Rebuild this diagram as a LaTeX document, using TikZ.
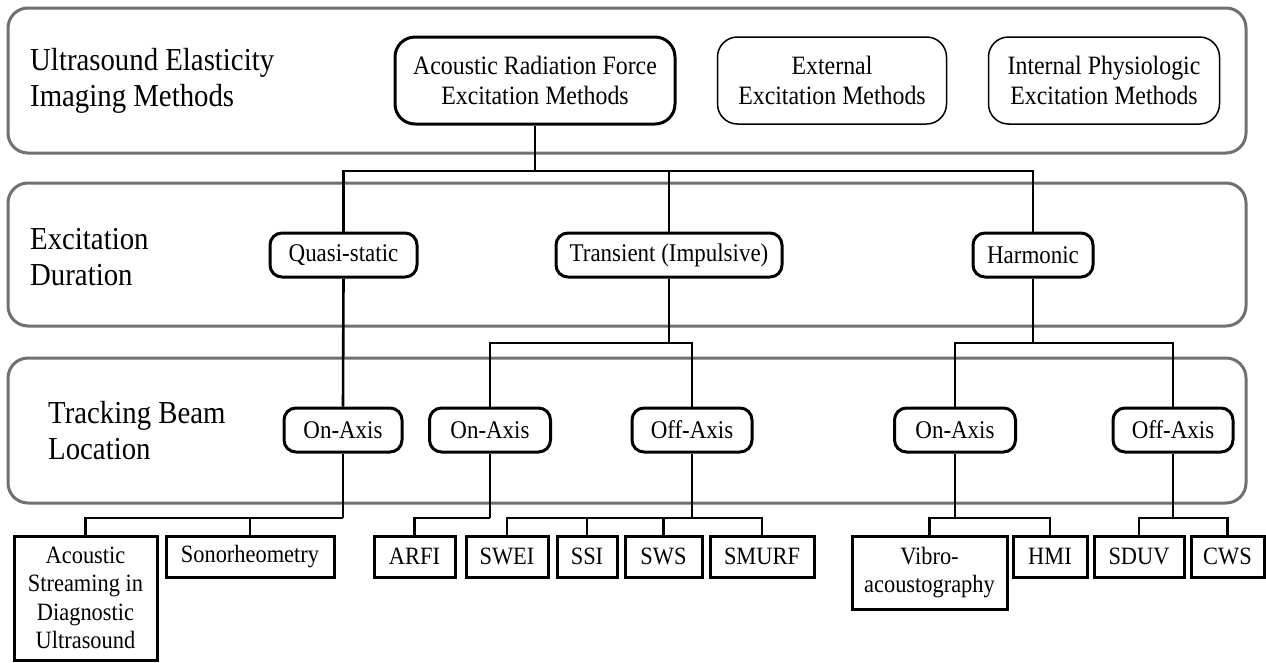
\documentclass[tikz,border=0pt]{standalone}
\usepackage{fontspec}
\setmainfont{Liberation Serif}[FakeStretch=0.9]
\definecolor{panelgray}{HTML}{707070}
\begin{document}
\begin{tikzpicture}[x=1pt,y=-1pt,
  panel/.style={draw=panelgray, line width=3pt, rounded corners=20pt, minimum width=1238pt, inner sep=0pt},
  title/.style={anchor=west, align=left, inner sep=0pt, font=\fontsize{32}{36}\selectfont},
  topbox/.style={draw, rounded corners=20pt, minimum height=87pt, inner sep=0pt, align=center, font=\fontsize{26.5}{30}\selectfont},
  rbox/.style={draw, line width=3pt, rounded corners=12pt, minimum height=44pt, inner sep=0pt, font=\fontsize{25.5}{28}\selectfont},
  leaf/.style={draw, line width=3pt, inner sep=0pt, minimum height=41pt, align=center, font=\fontsize{24.9}{28.5}\selectfont},
  conn/.style={line width=2.6pt}]
\useasboundingbox (0,0) rectangle (1266,662);
% panels
\node[panel, minimum height=145pt] (p1) at (627,80.5) {};
\node[panel, minimum height=143pt] (p2) at (627,254.5) {};
\node[panel, minimum height=145pt] (p3) at (627,430.5) {};
\node[title] (t1) at (30,81) {Ultrasound Elasticity\\Imaging Methods};
\node[title] (t2) at (30,257) {Excitation\\Duration};
\node[title] (t3) at (48,431) {Tracking Beam\\Location};
% top boxes
\node[topbox, line width=3pt, minimum width=280pt] (arf) at (535,80.5) {Acoustic Radiation Force\\Excitation Methods};
\node[topbox, line width=1.5pt, minimum width=229pt] (ext) at (832,80.5) {External\\Excitation Methods};
\node[topbox, line width=1.5pt, minimum width=231pt] (intl) at (1104,80.5) {Internal Physiologic\\Excitation Methods};
% band 2
\node[rbox, minimum width=147pt] (qs) at (343.5,255) {Quasi-static};
\node[rbox, minimum width=226pt] (tr) at (669,255) {Transient (Impulsive)};
\node[rbox, minimum width=120pt] (ha) at (1033,255) {Harmonic};
% band 3
\node[rbox, minimum width=118pt] (oa1) at (343,430) {On-Axis};
\node[rbox, minimum width=121pt] (oa2) at (490,430) {On-Axis};
\node[rbox, minimum width=120pt] (of1) at (692,430) {Off-Axis};
\node[rbox, minimum width=121pt] (oa3) at (955,430) {On-Axis};
\node[rbox, minimum width=120pt] (of2) at (1173,430) {Off-Axis};
% leaves
\node[leaf, minimum width=143pt, minimum height=124pt] (asdu) at (85.5,598) {Acoustic\\Streaming in\\Diagnostic\\Ultrasound};
\node[leaf, minimum width=168pt] (sono) at (250,556.5) {Sonorheometry};
\node[leaf, minimum width=81pt] (arfi) at (414.5,556.5) {ARFI};
\node[leaf, minimum width=82pt] (swei) at (507,556.5) {SWEI};
\node[leaf, minimum width=60pt] (ssi) at (587,556.5) {SSI};
\node[leaf, minimum width=77pt] (sws) at (663.5,556.5) {SWS};
\node[leaf, minimum width=104pt] (smurf) at (762,556.5) {SMURF};
\node[leaf, minimum width=155pt, minimum height=73pt] (vibro) at (929.5,572.5) {Vibro-\\acoustography};
\node[leaf, minimum width=74pt] (hmi) at (1050,556.5) {HMI};
\node[leaf, minimum width=90pt] (sduv) at (1139,556.5) {SDUV};
\node[leaf, minimum width=73pt] (cws) at (1227.5,556.5) {CWS};
% bus coordinates
\coordinate (b1) at (535,171);
\coordinate (b2) at (669,343);
\coordinate (b3) at (1033,343);
\coordinate (b4) at (343,518);
\coordinate (b5) at (490,518);
\coordinate (b6) at (692,518);
\coordinate (b7) at (955,518);
\coordinate (b8) at (1173,518);
% connectors
\draw[conn] (arf.south) -- (b1);
\draw[conn] (qs.north) |- (b1) -| (ha.north);
\draw[conn] (tr.north) -- (tr.north |- b1);
\draw[conn] (tr.south) -- (b2);
\draw[conn] (oa2.north) |- (b2) -| (of1.north);
\draw[conn] (ha.south) -- (b3);
\draw[conn] (oa3.north) |- (b3) -| (of2.north);
\draw[conn] (qs.south) -- (oa1.north);
\draw[conn] (oa1.south) -- (b4);
\draw[conn] (asdu.north) |- (b4);
\draw[conn] (sono.north) -- (sono.north |- b4);
\draw[conn] (oa2.south) -- (b5);
\draw[conn] (arfi.north) |- (b5);
\draw[conn] (of1.south) -- (b6);
\draw[conn] (swei.north) |- (b6) -| (smurf.north);
\draw[conn] (ssi.north) -- (ssi.north |- b6);
\draw[conn] (sws.north) -- (sws.north |- b6);
\draw[conn] (oa3.south) -- (b7);
\draw[conn] (vibro.north) |- (b7) -| (hmi.north);
\draw[conn] (of2.south) -- (b8);
\draw[conn] (sduv.north) |- (b8) -| (cws.north);
\end{tikzpicture}
\end{document}
